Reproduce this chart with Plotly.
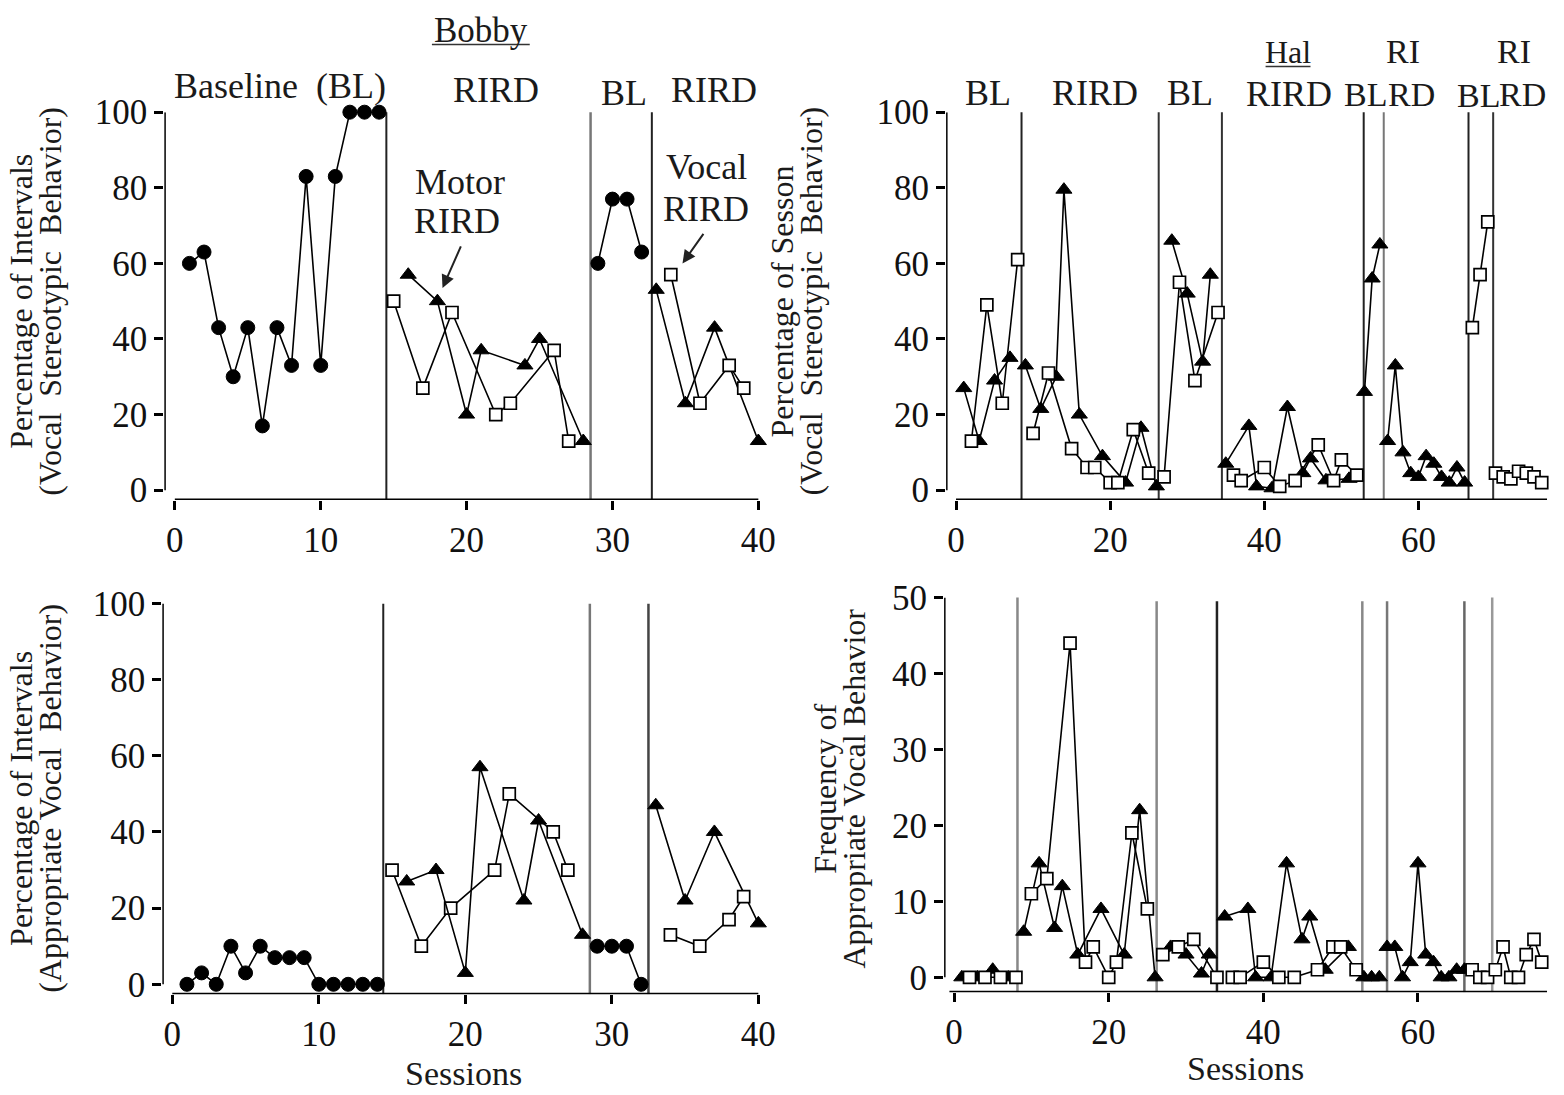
import plotly.graph_objects as go

W, H = 1564, 1095
FONT = "Liberation Serif"

# ---------------- Bobby (left) : vocal stereotypy ----------------
b_top_bl1_x = list(range(1, 15))
b_top_bl1_y = [60, 63, 43, 30, 43, 17, 43, 33, 83, 33, 83, 100, 100, 100]
b_top_voc1_x = [15, 17, 19, 22, 23, 26, 27]
b_top_voc1_y = [50, 27, 47, 20, 23, 37, 13]
b_top_mot1_x = [16, 18, 20, 21, 24, 25, 28]
b_top_mot1_y = [57, 50, 20, 37, 33, 40, 13]
b_top_bl2_x = [29, 30, 31, 32]
b_top_bl2_y = [60, 77, 77, 63]
b_top_mot2_x = [33, 35, 37, 40]
b_top_mot2_y = [53, 23, 43, 13]
b_top_voc2_x = [34, 36, 38, 39]
b_top_voc2_y = [57, 23, 33, 27]
b_top_phases = [14.5, 28.5, 32.7]

# ---------------- Bobby (left) : appropriate vocal ----------------
b_bot_bl1_x = list(range(1, 15))
b_bot_bl1_y = [0, 3, 0, 10, 3, 10, 7, 7, 7, 0, 0, 0, 0, 0]
b_bot_voc1_x = [15, 17, 19, 22, 23, 26, 27]
b_bot_voc1_y = [30, 10, 20, 30, 50, 40, 30]
b_bot_mot1_x = [16, 18, 20, 21, 24, 25, 28]
b_bot_mot1_y = [27, 30, 3, 57, 22, 43, 13]
b_bot_bl2_x = [29, 30, 31, 32]
b_bot_bl2_y = [10, 10, 10, 0]
b_bot_mot2_x = [33, 35, 37, 40]
b_bot_mot2_y = [47, 22, 40, 16]
b_bot_voc2_x = [34, 36, 38, 39]
b_bot_voc2_y = [13, 10, 17, 23]
b_bot_phases = [14.4, 28.5, 32.5]

# ---------------- Hal (right) : vocal stereotypy ----------------
h_top_tri = [
    ([1, 3, 5, 7], [27, 13, 29, 35]),
    ([9, 11, 13, 14, 16, 19, 22, 24, 26], [33, 21.5, 30, 79.5, 20, 9, 2, 16.5, 1]),
    ([28, 30, 32, 33], [66, 52, 34, 57]),
    ([35, 38, 39, 41, 43, 45, 46, 48, 51], [7, 17, 1, 0.5, 22, 4.5, 8.4, 2.6, 3]),
    ([53, 54, 55], [26, 56, 65]),
    ([56, 57, 58, 59, 60, 61, 62, 63, 64, 65, 66], [13, 33, 10, 4.5, 3.5, 9, 7, 3.5, 2, 6, 2]),
]
h_top_sq = [
    ([2, 4, 6, 8], [13, 49, 23, 61]),
    ([10, 12, 15, 17, 18, 20, 21, 23, 25], [15, 31, 11, 6, 6, 2, 2, 16, 4.5]),
    ([27, 29, 31, 34], [3.5, 55, 29, 47]),
    ([36, 37, 40, 42, 44, 47, 49, 50, 52], [4, 2.5, 6, 1, 2.5, 12, 2.5, 8, 4]),
    ([67, 68, 69], [43, 57, 71]),
    ([70, 71, 72, 73, 74, 75, 76], [4.5, 3.5, 3, 5, 4.5, 3.5, 2]),
]
h_top_phases = [8.5, 26.3, 34.5, 52.9, 55.5, 66.5, 69.7]

# ---------------- Hal (right) : appropriate vocal frequency ----------------
h_bot_tri = [
    ([1, 3, 5, 7], [0, 0, 1, 0]),
    ([9, 11, 13, 14, 16, 19, 22, 24, 26], [6, 15, 6.5, 12, 3, 9, 3, 22, 0]),
    ([28, 30, 32, 33], [4, 3, 0.5, 3]),
    ([35, 38, 39, 41, 43, 45, 46, 48, 51], [8, 9, 0, 0, 15, 5, 8, 1, 4]),
    ([53, 54, 55], [0, 0, 0]),
    ([56, 57, 58, 59, 60, 61, 62, 63, 64, 65, 66], [4, 4, 0, 2, 15, 3, 2, 0, 0, 1, 1]),
]
h_bot_sq = [
    ([2, 4, 6, 8], [0, 0, 0, 0]),
    ([10, 12, 15, 17, 18, 20, 21, 23, 25], [11, 13, 44, 2, 4, 0, 2, 19, 9]),
    ([27, 29, 31, 34], [3, 4, 5, 0]),
    ([36, 37, 40, 42, 44, 47, 49, 50, 52], [0, 0, 2, 0, 0, 1, 4, 4, 1]),
    ([67, 68, 69], [1, 0, 0]),
    ([70, 71, 72, 73, 74, 75, 76], [1, 4, 0, 0, 3, 5, 2]),
]
h_bot_phases = [8.2, 26.2, 34.0, 52.8, 56.0, 66.0, 69.6]

left_xticks = [0, 10, 20, 30, 40]
right_xticks = [0, 20, 40, 60]
pct_ticks = [0, 20, 40, 60, 80, 100]
freq_ticks = [0, 10, 20, 30, 40, 50]


# screen-pixel -> figure-pixel compensation (page is captured slightly scaled)
def FX(x):
    return (x - 0.4) / 0.992


def FY(y):
    return (y - 16.3) / 0.979


fig = go.Figure()

MK = {
    "circle": dict(symbol="circle", size=14, color="black", line=dict(color="black", width=1)),
    "tri": dict(symbol="triangle-up", size=14, color="black", line=dict(color="black", width=1)),
    "sq": dict(symbol="square", size=12, color="white", line=dict(color="black", width=1.7)),
}


def add(x, y, kind, ax):
    fig.add_trace(go.Scatter(
        x=x, y=y, mode="lines+markers", xaxis="x" + ax, yaxis="y" + ax,
        line=dict(color="black", width=1.6), marker=MK[kind],
        showlegend=False, hoverinfo="skip", cliponaxis=False))


add(b_top_bl1_x, b_top_bl1_y, "circle", "")
add(b_top_voc1_x, b_top_voc1_y, "sq", "")
add(b_top_mot1_x, b_top_mot1_y, "tri", "")
add(b_top_bl2_x, b_top_bl2_y, "circle", "")
add(b_top_mot2_x, b_top_mot2_y, "tri", "")
add(b_top_voc2_x, b_top_voc2_y, "sq", "")

add(b_bot_bl1_x, b_bot_bl1_y, "circle", "3")
add(b_bot_voc1_x, b_bot_voc1_y, "sq", "3")
add(b_bot_mot1_x, b_bot_mot1_y, "tri", "3")
add(b_bot_bl2_x, b_bot_bl2_y, "circle", "3")
add(b_bot_mot2_x, b_bot_mot2_y, "tri", "3")
add(b_bot_voc2_x, b_bot_voc2_y, "sq", "3")

for xs, ys in h_top_tri:
    add(xs, ys, "tri", "2")
for xs, ys in h_top_sq:
    add(xs, ys, "sq", "2")
for xs, ys in h_bot_tri:
    add(xs, ys, "tri", "4")
for xs, ys in h_bot_sq:
    add(xs, ys, "sq", "4")


def dom_x(p0, p1):
    return [FX(p0) / W, FX(p1) / W]


def dom_y(ptop, pbot):
    return [1 - FY(pbot) / H, 1 - FY(ptop) / H]


tickfont = dict(family=FONT, size=35, color="#111")
common = dict(showline=False, ticks="outside", ticklen=9, tickwidth=2.5, tickcolor="black",
              showgrid=False, zeroline=False, tickfont=tickfont, fixedrange=True)

XL = [-0.72, 40.14]
XL3 = [-0.68, 40.14]
XR = [-1.29, 76.7]
YT = [-2.6, 100]
YB4 = [-1.96, 50]

fig.update_layout(
    width=W, height=H, margin=dict(l=0, r=0, t=0, b=0),
    paper_bgcolor="white", plot_bgcolor="white",
    xaxis=dict(domain=dom_x(165, 762), range=XL, tickvals=left_xticks, anchor="y", **common),
    yaxis=dict(domain=dom_y(110, 500), range=YT, tickvals=pct_ticks, anchor="x", **common),
    xaxis3=dict(domain=dom_x(163, 762), range=XL3, tickvals=left_xticks, anchor="y3", **common),
    yaxis3=dict(domain=dom_y(604, 997), range=YT, tickvals=pct_ticks, anchor="x3", **common),
    xaxis2=dict(domain=dom_x(948, 1550), range=XR, tickvals=right_xticks, anchor="y2", **common),
    yaxis2=dict(domain=dom_y(110, 500), range=YT, tickvals=pct_ticks, anchor="x2", **common),
    xaxis4=dict(domain=dom_x(946, 1550), range=XR, tickvals=right_xticks, anchor="y4", **common),
    yaxis4=dict(domain=dom_y(598, 995), range=YB4, tickvals=freq_ticks, anchor="x4", **common),
)

shapes = []


def seg(ax, x0, x1, y0, y1, color="black", width=2, layer="below"):
    shapes.append(dict(type="line", xref="x" + ax, yref="y" + ax, x0=x0, x1=x1,
                       y0=y0, y1=y1, line=dict(color=color, width=width), layer=layer))


# Prism-style offset axis lines
AXW = 3
seg("", XL[0], XL[0], 0, 100, width=AXW, layer="above")
seg("", 0, 40, YT[0], YT[0], width=AXW, layer="above")
seg("3", XL3[0], XL3[0], 0, 100, width=AXW, layer="above")
seg("3", 0, 40, YT[0], YT[0], width=AXW, layer="above")
seg("2", XR[0], XR[0], 0, 100, width=AXW, layer="above")
seg("2", 0, XR[1], YT[0], YT[0], width=AXW, layer="above")
seg("4", XR[0], XR[0], 0, 50, width=AXW, layer="above")
seg("4", -0.6, XR[1], YB4[0], YB4[0], width=AXW, layer="above")

# phase-change lines
seg("", b_top_phases[0], b_top_phases[0], YT[0], 104, "#222")
seg("", b_top_phases[1], b_top_phases[1], YT[0], 102.5, "#777", 2.5)
seg("", b_top_phases[2], b_top_phases[2], YT[0], 102.5, "#222")
seg("3", b_bot_phases[0], b_bot_phases[0], YT[0], 100, "#222")
seg("3", b_bot_phases[1], b_bot_phases[1], YT[0], 100, "#777", 2.5)
seg("3", b_bot_phases[2], b_bot_phases[2], YT[0], 100, "#444", 2.5)
top_cols = ["#222", "#333", "#333", "#222", "#777", "#222", "#333"]
for xv, c in zip(h_top_phases, top_cols):
    seg("2", xv, xv, YT[0], 102.5, c)
bot_cols = ["#888", "#888", "#222", "#888", "#777", "#666", "#999"]
bot_top = [51.5, 49.5, 49.5, 49.5, 49.5, 49.5, 51.5]
for xv, c, t in zip(h_bot_phases, bot_cols, bot_top):
    seg("4", xv, xv, YB4[0], t, c, 2.5)


def P(px, py):
    return FX(px) / W, 1 - FY(py) / H


# underlines under subject names
for (x0, x1, yy) in [(433, 531, 42), (1268, 1313, 64)]:
    a, b = P(x0, yy)
    c, d = P(x1, yy)
    shapes.append(dict(type="line", xref="paper", yref="paper", x0=a, x1=c, y0=b, y1=d,
                       line=dict(color="#333", width=1.5)))

fig.update_layout(shapes=shapes)

ann = []


def text(px, py, s, size=36, angle=0):
    x, y = P(px, py)
    ann.append(dict(x=x, y=y, xref="paper", yref="paper", text=s, showarrow=False,
                    xanchor="center", yanchor="middle", textangle=angle,
                    font=dict(family=FONT, size=size, color="#1a1a1a")))


# subject names
text(482, 28, "Bobby", 35)
text(1290, 49, "Hal", 32)
# Bobby phase labels
text(281, 84, "Baseline  (BL)", 36)
text(497, 88, "RIRD", 36)
text(625, 91, "BL", 36)
text(716, 88, "RIRD", 36)
# Hal phase labels
text(990, 91, "BL", 36)
text(1097, 91, "RIRD", 36)
text(1192, 91, "BL", 36)
text(1291, 92, "RIRD", 36)
text(1368, 92, "BL", 34)
text(1406, 49, "RI", 34)
text(1414, 92, "RD", 34)
text(1481, 93, "BL", 34)
text(1517, 49, "RI", 34)
text(1525, 92, "RD", 34)
# annotations with arrows
text(461, 180, "Motor", 36)
text(458, 219, "RIRD", 36)
text(708, 165, "Vocal", 36)
text(708, 207, "RIRD", 36)
ann.append(dict(x=18.35, y=53.5, xref="x", yref="y", ax=19, ay=-43, text="",
                showarrow=True, arrowhead=2, arrowsize=1.3, arrowwidth=2, arrowcolor="#222"))
ann.append(dict(x=34.8, y=60.0, xref="x", yref="y", ax=22, ay=-31, text="",
                showarrow=True, arrowhead=2, arrowsize=1.3, arrowwidth=2, arrowcolor="#222"))
# y-axis titles
text(22, 300, "Percentage of Intervals", 32, -90)
text(51, 300, "(Vocal  Stereotypic  Behavior)", 32, -90)
text(22, 800, "Percentage of Intervals", 32, -90)
text(51, 800, "(Appropriate Vocal  Behavior)", 32, -90)
text(784, 300, "Percentage of Sesson", 32, -90)
text(813, 300, "(Vocal  Stereotypic  Behavior)", 32, -90)
text(827, 790, "Frequency of", 32, -90)
text(856, 790, "Appropriate Vocal Behavior", 32, -90)
# x-axis titles
text(465, 1077, "Sessions", 34)
text(1248, 1072, "Sessions", 34)

fig.update_layout(annotations=ann)
fig.write_html("out.html")
